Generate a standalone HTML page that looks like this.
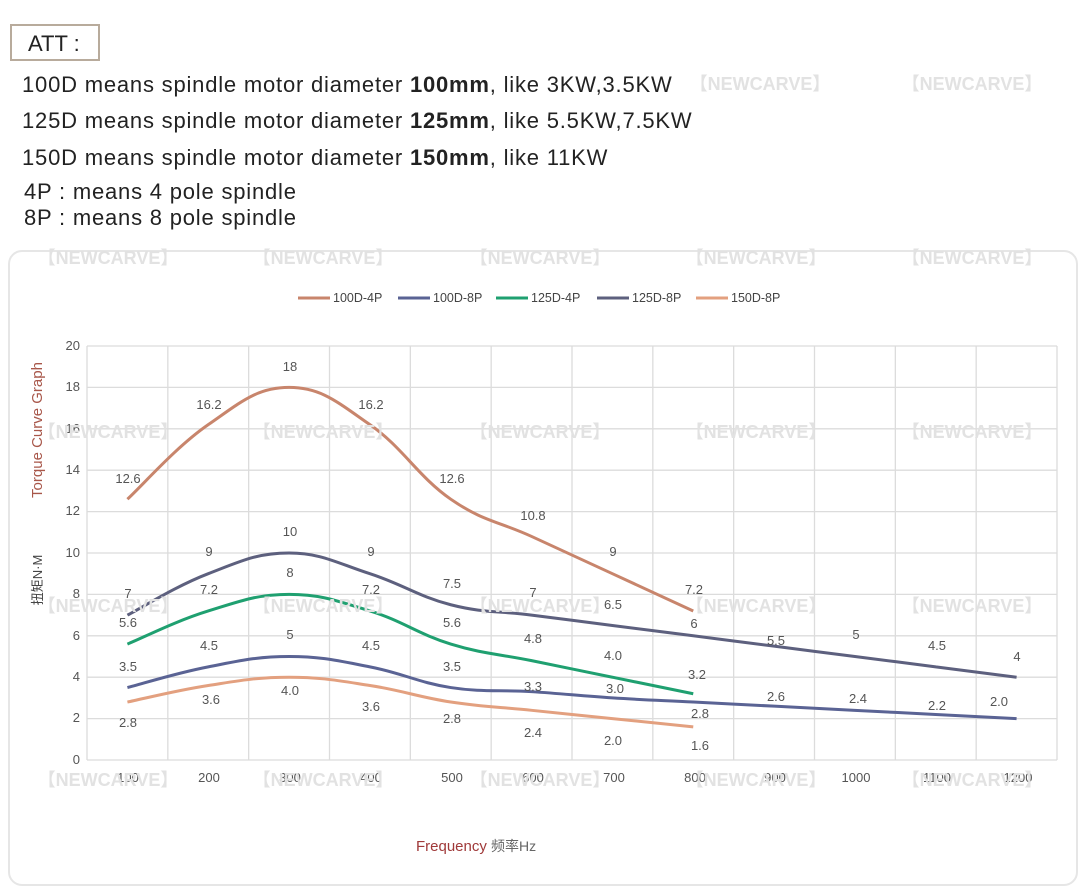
<!DOCTYPE html>
<html><head><meta charset="utf-8"><style>
html,body{margin:0;padding:0;background:#fff;}
body{width:1080px;height:891px;position:relative;overflow:hidden;font-family:"Liberation Sans","Noto Sans CJK SC",sans-serif;color:#222;}
.t{position:absolute;font-size:22px;letter-spacing:0.8px;white-space:nowrap;}
.att{position:absolute;left:10px;top:24px;width:90px;height:37px;border:2px solid #b8ab9c;box-sizing:border-box;font-size:22px;padding-left:16px;line-height:35px;background:#fff;}
.card{position:absolute;left:8px;top:250px;width:1070px;height:636px;border:2px solid #e6e6e6;border-radius:14px;box-sizing:border-box;}
svg{position:absolute;left:0;top:0;}
</style></head><body>
<div class="att">ATT :</div>
<div class="t" style="left:22px;top:72px">100D means spindle motor diameter <b>100mm</b>, like 3KW,3.5KW</div>
<div class="t" style="left:22px;top:108px">125D means spindle motor diameter <b>125mm</b>, like 5.5KW,7.5KW</div>
<div class="t" style="left:22px;top:145px">150D means spindle motor diameter <b>150mm</b>, like 11KW</div>
<div class="t" style="left:24px;top:179px">4P : means 4 pole spindle</div>
<div class="t" style="left:24px;top:205px">8P : means 8 pole spindle</div>
<div class="card"></div>
<svg id="s" width="1080" height="891" viewBox="0 0 1080 891" font-family="Liberation Sans, Noto Sans CJK SC, sans-serif">
<g stroke="#dcdcdc" stroke-width="1.3" id="grid"></g>
<g font-size="13" fill="#555" text-anchor="end">
<text x="80" y="350">20</text><text x="80" y="391">18</text><text x="80" y="433">16</text><text x="80" y="474">14</text><text x="80" y="515">12</text><text x="80" y="557">10</text><text x="80" y="598">8</text><text x="80" y="640">6</text><text x="80" y="681">4</text><text x="80" y="722">2</text><text x="80" y="764">0</text>
</g>
<g font-size="13" fill="#555" text-anchor="middle">
<text x="128" y="782">100</text><text x="209" y="782">200</text><text x="290" y="782">300</text><text x="371" y="782">400</text><text x="452" y="782">500</text><text x="533" y="782">600</text><text x="614" y="782">700</text><text x="695" y="782">800</text><text x="775" y="782">900</text><text x="856" y="782">1000</text><text x="937" y="782">1100</text><text x="1018" y="782">1200</text>
</g>
<text transform="translate(42,430) rotate(-90)" text-anchor="middle" font-size="15" fill="#a8574a">Torque Curve Graph</text>
<text transform="translate(42,580) rotate(-90)" text-anchor="middle" font-size="13" fill="#444">扭矩N·M</text>
<text x="416" y="851" font-size="15" fill="#a03a3a">Frequency <tspan fill="#666" font-size="14">频率Hz</tspan></text>
<g id="lines" fill="none" stroke-width="3"></g>
<g font-size="12.5" fill="#444">
<line x1="298" y1="298" x2="330" y2="298" stroke="#c8856c" stroke-width="3"/><text x="333" y="302">100D-4P</text>
<line x1="398" y1="298" x2="430" y2="298" stroke="#5a6394" stroke-width="3"/><text x="433" y="302">100D-8P</text>
<line x1="496" y1="298" x2="528" y2="298" stroke="#1fa070" stroke-width="3"/><text x="531" y="302">125D-4P</text>
<line x1="597" y1="298" x2="629" y2="298" stroke="#5d607e" stroke-width="3"/><text x="632" y="302">125D-8P</text>
<line x1="696" y1="298" x2="728" y2="298" stroke="#e3a07f" stroke-width="3"/><text x="731" y="302">150D-8P</text>
</g>
<g font-size="13" fill="#555" text-anchor="middle">
<text x="128" y="483">12.6</text><text x="209" y="409">16.2</text><text x="290" y="371">18</text><text x="371" y="409">16.2</text><text x="452" y="483">12.6</text><text x="533" y="520">10.8</text><text x="613" y="556">9</text><text x="694" y="594">7.2</text>
<text x="128" y="598">7</text><text x="209" y="556">9</text><text x="290" y="536">10</text><text x="371" y="556">9</text><text x="452" y="588">7.5</text><text x="533" y="597">7</text><text x="613" y="609">6.5</text><text x="694" y="628">6</text><text x="776" y="645">5.5</text><text x="856" y="639">5</text><text x="937" y="650">4.5</text><text x="1017" y="661">4</text>
<text x="128" y="627">5.6</text><text x="209" y="594">7.2</text><text x="290" y="577">8</text><text x="371" y="594">7.2</text><text x="452" y="627">5.6</text><text x="533" y="643">4.8</text><text x="613" y="660">4.0</text><text x="697" y="679">3.2</text>
<text x="128" y="671">3.5</text><text x="209" y="650">4.5</text><text x="290" y="639">5</text><text x="371" y="650">4.5</text><text x="452" y="671">3.5</text><text x="533" y="691">3.3</text><text x="615" y="693">3.0</text><text x="700" y="718">2.8</text><text x="776" y="701">2.6</text><text x="858" y="703">2.4</text><text x="937" y="710">2.2</text><text x="999" y="706">2.0</text>
<text x="128" y="727">2.8</text><text x="211" y="704">3.6</text><text x="290" y="695">4.0</text><text x="371" y="711">3.6</text><text x="452" y="723">2.8</text><text x="533" y="737">2.4</text><text x="613" y="745">2.0</text><text x="700" y="750">1.6</text>
</g>
<g font-size="18" font-weight="bold" fill="#e2e2e2" text-anchor="middle">
<text x="760" y="90">【NEWCARVE】</text><text x="972" y="90">【NEWCARVE】</text>
<text x="108" y="264">【NEWCARVE】</text><text x="323" y="264">【NEWCARVE】</text><text x="540" y="264">【NEWCARVE】</text><text x="756" y="264">【NEWCARVE】</text><text x="972" y="264">【NEWCARVE】</text>
<text x="108" y="438">【NEWCARVE】</text><text x="323" y="438">【NEWCARVE】</text><text x="540" y="438">【NEWCARVE】</text><text x="756" y="438">【NEWCARVE】</text><text x="972" y="438">【NEWCARVE】</text>
<text x="108" y="612">【NEWCARVE】</text><text x="323" y="612">【NEWCARVE】</text><text x="540" y="612">【NEWCARVE】</text><text x="756" y="612">【NEWCARVE】</text><text x="972" y="612">【NEWCARVE】</text>
<text x="108" y="786">【NEWCARVE】</text><text x="323" y="786">【NEWCARVE】</text><text x="540" y="786">【NEWCARVE】</text><text x="756" y="786">【NEWCARVE】</text><text x="972" y="786">【NEWCARVE】</text>
</g>
</svg>
<script>
var NS="http://www.w3.org/2000/svg";
var L=87,R=1057,T=346,B=760,cw=(R-L)/12,yu=(B-T)/20;
var g=document.getElementById("grid");
function ln(p,x1,y1,x2,y2){var e=document.createElementNS(NS,"line");e.setAttribute("x1",x1);e.setAttribute("y1",y1);e.setAttribute("x2",x2);e.setAttribute("y2",y2);p.appendChild(e);}
for(var i=0;i<=12;i++){ln(g,L+i*cw,T,L+i*cw,B);}
for(var j=0;j<=10;j++){ln(g,L,T+j*2*yu,R,T+j*2*yu);}
function X(i){return L+cw/2+i*cw;}function Y(v){return B-v*yu;}
function path(d,c){var p=d.map(function(v,i){return[X(i),Y(v)];});var s="M"+p[0][0]+","+p[0][1];
for(var i=0;i<p.length-1;i++){var p0=p[i-1]||p[i],p1=p[i],p2=p[i+1],p3=p[i+2]||p2;var t=0.2;
s+=" C"+(p1[0]+(p2[0]-p0[0])*t)+","+(p1[1]+(p2[1]-p0[1])*t)+" "+(p2[0]-(p3[0]-p1[0])*t)+","+(p2[1]-(p3[1]-p1[1])*t)+" "+p2[0]+","+p2[1];}
var e=document.createElementNS(NS,"path");e.setAttribute("d",s);e.setAttribute("stroke",c);document.getElementById("lines").appendChild(e);}
path([12.6,16.2,18,16.2,12.6,10.8,9,7.2],"#c8856c");
path([7,9,10,9,7.5,7,6.5,6,5.5,5,4.5,4],"#5d607e");
path([5.6,7.2,8,7.2,5.6,4.8,4.0,3.2],"#1fa070");
path([3.5,4.5,5,4.5,3.5,3.3,3.0,2.8,2.6,2.4,2.2,2.0],"#5a6394");
path([2.8,3.6,4.0,3.6,2.8,2.4,2.0,1.6],"#e3a07f");
</script>
</body></html>
